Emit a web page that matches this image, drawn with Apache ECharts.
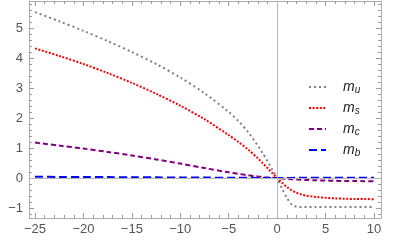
<!DOCTYPE html>
<html><head><meta charset="utf-8">
<script src="https://cdn.jsdelivr.net/npm/echarts@6/dist/echarts.min.js"></script>
<style>html,body{margin:0;padding:0;background:#fff}#c{width:415px;height:248px}</style>
</head><body><div id="c"></div>
<script>
const xs = [-25, -22.5, -20, -17.5, -15, -12.5, -10, -7.5, -5, -4, -3, -2, -1.5, -1, -0.5, 0, 0.5, 1, 1.5, 2, 2.5, 3, 4, 5, 6, 7, 8, 9, 10];
const mU = [5.53, 5.225, 4.905, 4.565, 4.2, 3.8, 3.35, 2.825, 2.2, 1.9, 1.53, 1.08, 0.83, 0.56, 0.28, 0, -0.35, -0.66, -0.88, -0.96, -0.97, -0.97, -0.97, -0.97, -0.97, -0.97, -0.97, -0.97, -0.97];
const mS = [4.32, 4.07, 3.8, 3.5, 3.17, 2.81, 2.41, 1.96, 1.43, 1.2, 0.95, 0.66, 0.5, 0.335, 0.165, 0, -0.16, -0.3, -0.41, -0.49, -0.55, -0.59, -0.63, -0.66, -0.68, -0.69, -0.7, -0.7, -0.71];
const mC = [1.18, 1.08, 0.98, 0.87, 0.75, 0.62, 0.48, 0.33, 0.19, 0.14, 0.09, 0.05, 0.035, 0.02, 0.01, 0, -0.015, -0.03, -0.04, -0.05, -0.06, -0.065, -0.075, -0.085, -0.09, -0.1, -0.1, -0.105, -0.11];
const mB = [0.04, 0.037, 0.033, 0.03, 0.026, 0.022, 0.018, 0.014, 0.01, 0.008, 0.006, 0.004, 0.003, 0.002, 0.001, 0, 0.002, 0.003, 0.004, 0.005, 0.005, 0.005, 0.005, 0.005, 0.005, 0.005, 0.005, 0.005, 0.005];
const xMajor = [-25, -20, -15, -10, -5, 0, 5, 10];
const yMajor = [-1, 0, 1, 2, 3, 4, 5];
const names = ['u', 's', 'c', 'b'];

const X_MIN = -25.62, X_MAX = 10.72, Y_MIN = -1.333, Y_MAX = 5.9;
const xMinor = []; for (let v = -25; v <= 10; v++) if (v % 5 !== 0) xMinor.push(v);
const yMinor = []; for (let k = -6; k <= 29; k++) if (k % 5 !== 0) yMinor.push(+(k * 0.2).toFixed(1));

const frame = '#adadad', tickC = '#9a9a9a', labC = '#555';
const fmt = v => (v < 0 ? '\u2212' + Math.abs(v) : '' + v);

function xAx(pos, vals, len, labels, line) {
  return {type: 'value', position: pos, min: X_MIN, max: X_MAX,
    axisLine: {show: line, onZero: false, lineStyle: {color: frame, width: 1}},
    axisTick: {show: true, inside: true, length: len, customValues: vals, lineStyle: {color: tickC, width: 1}},
    axisLabel: {show: labels, customValues: vals, formatter: fmt, color: labC, fontSize: 13, fontFamily: 'Liberation Sans', margin: 5},
    splitLine: {show: false}};
}
function yAx(pos, vals, len, labels, line) {
  return {type: 'value', position: pos, min: Y_MIN, max: Y_MAX,
    axisLine: {show: line, onZero: false, lineStyle: {color: frame, width: 1}},
    axisTick: {show: true, inside: true, length: len, customValues: vals, lineStyle: {color: tickC, width: 1}},
    axisLabel: {show: labels, customValues: vals, formatter: fmt, color: labC, fontSize: 13, fontFamily: 'Liberation Sans', margin: 6},
    splitLine: {show: false}};
}

const pts = arr => xs.map((x, i) => [x, arr[i]]);
function ser(name, arr, color, dash, width) {
  return {name: name, type: 'line', data: pts(arr), xAxisIndex: 0, yAxisIndex: 0,
    symbol: 'none', smooth: 0.3, z: 3,
    lineStyle: {color: color, width: width, type: dash, cap: 'butt'}, itemStyle: {color: color}};
}

const chart = echarts.init(document.getElementById('c'), null, {renderer: 'canvas'});
chart.setOption({
  animation: false,
  grid: {left: 29, right: 34, top: 1, bottom: 30, containLabel: false},
  xAxis: [xAx('bottom', xMajor, 5, true, true), xAx('bottom', xMinor, 3, false, false),
          xAx('top', xMajor, 5, false, true), xAx('top', xMinor, 3, false, false)],
  yAxis: [yAx('left', yMajor, 5, true, true), yAx('left', yMinor, 3, false, false),
          yAx('right', yMajor, 5, false, true), yAx('right', yMinor, 3, false, false)],
  legend: {
    orient: 'vertical', left: 303, top: 75, itemWidth: 17, itemHeight: 8, itemGap: 6,
    data: ['m_u', 'm_s', 'm_c', 'm_b'],
    itemStyle: {color: 'rgba(0,0,0,0)', opacity: 0, borderWidth: 0},
    formatter: n => '{sp|}{m|m}{s|' + n.slice(2) + '}',
    textStyle: {rich: {
      sp: {width: 12},
      m: {fontSize: 14, fontStyle: 'italic', fontFamily: 'Liberation Sans', color: '#222'},
      s: {fontSize: 10, fontStyle: 'italic', fontFamily: 'Liberation Sans', color: '#222', padding: [6, 0, 0, 0]}
    }}
  },
  series: [
    {name: 'axes0', type: 'line', data: [], z: 1, silent: true,
      markLine: {silent: true, symbol: 'none', label: {show: false},
        lineStyle: {color: '#b5b5b5', width: 1, type: 'solid'},
        data: [{xAxis: 0}, {yAxis: 0}]}},
    ser('m_u', mU, '#808080', [2, 3], 2),
    ser('m_s', mS, '#ff0000', [2, 1.6], 2),
    ser('m_c', mC, '#800080', [5, 3], 2),
    ser('m_b', mB, '#0000ff', [8, 4], 2)
  ]
});
</script></body></html>
